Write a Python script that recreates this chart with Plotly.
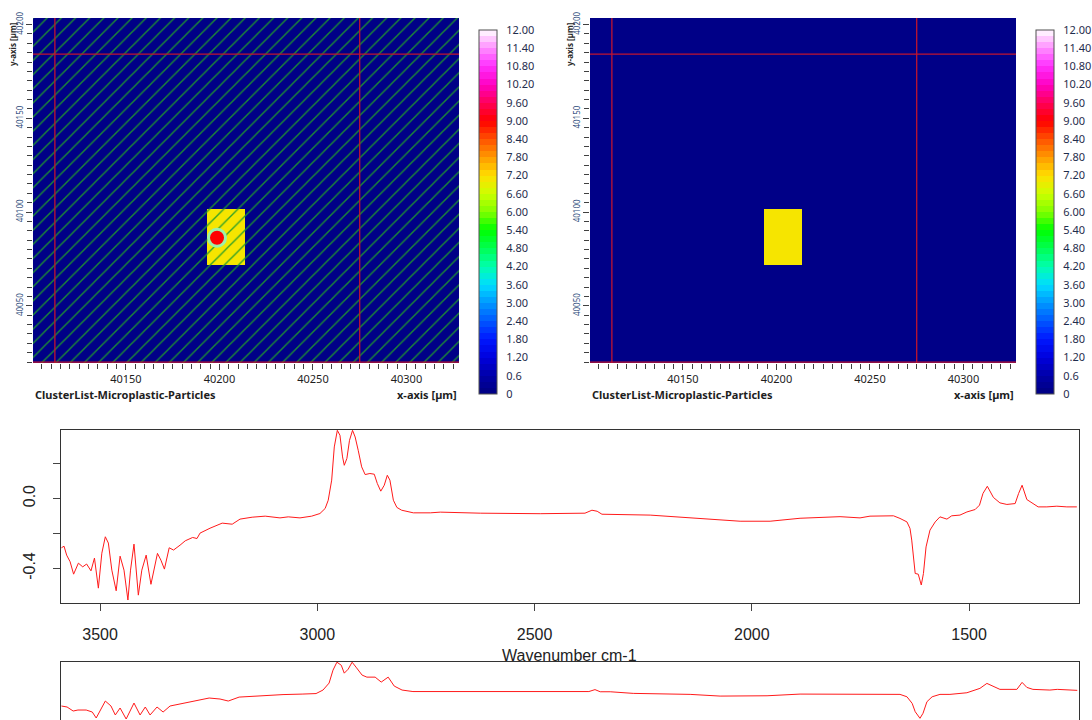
import plotly.graph_objects as go

W, H = 1092, 720

# ---------------- particle map (µm) ----------------
map_x_edges = [40100.3, 40193.3, 40213.6, 40328.1]
map_y_edges = [40019.5, 40071.9, 40101.9, 40203.5]
map_z = [[0, 0, 0],
         [0, 7.1, 0],
         [0, 0, 0]]
particle_x = [40198.7]
particle_y = [40086.3]
cross_x = [40112.0, 40275.0]
cross_y = [40020.0, 40184.2]
map_xticks = [40150, 40200, 40250, 40300]
map_yticks = [40050, 40100, 40150, 40200]

# colour scale of the map
cbar_values = [0, 0.6, 1.2, 1.8, 2.4, 3.0, 3.6, 4.2, 4.8, 5.4, 6.0,
               6.6, 7.2, 7.8, 8.4, 9.0, 9.6, 10.2, 10.8, 11.4, 12.0]
cbar_labels = ["0", "0.6", "1.20", "1.80", "2.40", "3.00", "3.60", "4.20", "4.80",
               "5.40", "6.00", "6.60", "7.20", "7.80", "8.40", "9.00", "9.60",
               "10.20", "10.80", "11.40", "12.00"]
cbar_colors = ["#000080", "#0000a8", "#0000dc", "#0018ff", "#0058ff", "#0098ff",
               "#00dcff", "#00ffb0", "#00ff50", "#00ff00", "#80ff00", "#ccff00",
               "#ffe000", "#ff9800", "#ff5000", "#ff0000", "#ff0058", "#ff00c0",
               "#ff30ff", "#ff90ff", "#ffffff"]

# ---------------- spectra ----------------
wn1 = [3589, 3583, 3577, 3569, 3561, 3550, 3540, 3531, 3521, 3513, 3504, 3496,
       3488, 3481, 3473, 3463, 3454, 3445, 3436, 3430, 3422, 3412, 3404, 3394,
       3383, 3376, 3368, 3360, 3352, 3341, 3331, 3316, 3304, 3287, 3277, 3270,
       3247, 3219, 3196, 3178, 3150, 3120, 3086, 3067, 3040, 3013, 2994, 2982,
       2975, 2967, 2961, 2954, 2948, 2942, 2938, 2932, 2926, 2919, 2913, 2906,
       2898, 2890, 2879, 2869, 2862, 2854, 2846, 2839, 2833, 2825, 2817, 2806,
       2779, 2740, 2717, 2625, 2487, 2384, 2368, 2356, 2345, 2234, 2119, 2027,
       1958, 1889, 1797, 1751, 1728, 1674, 1659, 1643, 1636, 1632, 1624, 1617,
       1610, 1605, 1599, 1590, 1578, 1567, 1551, 1540, 1521, 1505, 1486, 1476,
       1468, 1458, 1444, 1429, 1413, 1394, 1386, 1378, 1367, 1356, 1341, 1321,
       1298, 1275, 1252]
ab1 = [-0.282, -0.273, -0.324, -0.362, -0.433, -0.370, -0.391, -0.375, -0.414,
       -0.341, -0.513, -0.313, -0.219, -0.255, -0.410, -0.528, -0.330, -0.410,
       -0.581, -0.410, -0.261, -0.553, -0.410, -0.324, -0.491, -0.410, -0.314,
       -0.353, -0.404, -0.282, -0.295, -0.267, -0.242, -0.223, -0.229, -0.198,
       -0.170, -0.141, -0.147, -0.118, -0.107, -0.101, -0.111, -0.105, -0.111,
       -0.101, -0.086, -0.057, -0.010, 0.105, 0.295, 0.390, 0.362, 0.238, 0.190,
       0.229, 0.333, 0.390, 0.352, 0.276, 0.181, 0.137, 0.143, 0.139, 0.086,
       0.042, 0.076, 0.133, 0.105, -0.010, -0.051, -0.067, -0.082, -0.082,
       -0.078, -0.084, -0.087, -0.084, -0.067, -0.073, -0.090, -0.095, -0.113,
       -0.130, -0.130, -0.113, -0.104, -0.111, -0.101, -0.099, -0.114, -0.134,
       -0.171, -0.238, -0.429, -0.433, -0.495, -0.429, -0.277, -0.181, -0.134,
       -0.105, -0.118, -0.099, -0.095, -0.077, -0.063, -0.038, 0.029, 0.070,
       0.006, -0.025, -0.034, -0.029, 0.029, 0.076, -0.006, -0.023, -0.048,
       -0.048, -0.044, -0.048, -0.048]

wn2 = [3589, 3576, 3562, 3551, 3532, 3518, 3509, 3500, 3488, 3475, 3465, 3454,
       3440, 3422, 3408, 3396, 3385, 3369, 3355, 3339, 3316, 3291, 3272, 3249,
       3224, 3205, 3180, 3148, 3113, 3079, 3035, 3003, 2987, 2973, 2964, 2955,
       2945, 2938, 2929, 2920, 2911, 2897, 2886, 2867, 2853, 2844, 2837, 2823,
       2805, 2780, 2674, 2497, 2375, 2361, 2349, 2326, 2273, 2142, 2073, 1965,
       1889, 1659, 1643, 1631, 1624, 1613, 1606, 1597, 1585, 1567, 1544, 1505,
       1475, 1459, 1447, 1429, 1390, 1378, 1367, 1353, 1314, 1297, 1251]
ab2 = [-0.298, -0.314, -0.378, -0.362, -0.362, -0.394, -0.489, -0.362, -0.219,
       -0.298, -0.441, -0.330, -0.505, -0.251, -0.441, -0.314, -0.441, -0.314,
       -0.394, -0.298, -0.267, -0.235, -0.203, -0.171, -0.187, -0.219, -0.156,
       -0.140, -0.124, -0.116, -0.108, -0.100, -0.044, 0.067, 0.273, 0.400,
       0.352, 0.225, 0.289, 0.400, 0.321, 0.194, 0.162, 0.162, 0.083, 0.130,
       0.162, 0.019, -0.044, -0.068, -0.068, -0.068, -0.068, -0.037, -0.071,
       -0.071, -0.097, -0.113, -0.140, -0.135, -0.108, -0.113, -0.151, -0.256,
       -0.389, -0.494, -0.414, -0.230, -0.151, -0.113, -0.113, -0.087, -0.017,
       0.062, 0.019, -0.033, -0.033, 0.078, -0.002, -0.033, -0.044, -0.033,
       -0.049]
spec_xticks = [3500, 3000, 2500, 2000, 1500]
spec_yticks = [-0.4, -0.2, 0.0, 0.2]
spec_ylabels = ["-0.4", "", "0.0", ""]


def hex_rgb(h):
    h = h.lstrip("#")
    return tuple(int(h[i:i + 2], 16) for i in (0, 2, 4))


def band_colorscale(values, colors, zmax, nbands=60):
    """Stepped colour scale, one flat colour per band."""
    scale = []
    for i in range(nbands):
        v = (i + 0.5) * zmax / nbands
        for k in range(len(values) - 1):
            if values[k] <= v <= values[k + 1]:
                t = (v - values[k]) / (values[k + 1] - values[k])
                a, b = hex_rgb(colors[k]), hex_rgb(colors[k + 1])
                c = tuple(round(a[j] + (b[j] - a[j]) * t) for j in range(3))
                break
        col = "rgb(%d,%d,%d)" % c
        scale.append([i / nbands, col])
        scale.append([(i + 1) / nbands, col])
    return scale


cscale = band_colorscale(cbar_values, cbar_colors, 12.0)

fig = go.Figure()

# map panels: left (hatched, with particle marker) and right
panels = [
    dict(xa="x", ya="y", left=33, right=459, cbx=479),
    dict(xa="x2", ya="y2", left=590, right=1016, cbx=1036),
]
for p in panels:
    fig.add_trace(go.Heatmap(
        x=map_x_edges, y=map_y_edges, z=map_z, xaxis=p["xa"], yaxis=p["ya"],
        zmin=0, zmax=12, colorscale=cscale, hoverinfo="skip",
        colorbar=dict(
            x=p["cbx"] / W, xanchor="left", xpad=0, ypad=0,
            y=1 - 212 / H, yanchor="middle", len=364 / H, lenmode="fraction",
            thickness=18, outlinewidth=1, outlinecolor="#505050",
            tickvals=cbar_values, ticktext=cbar_labels,
            ticks="outside", ticklen=7, tickcolor="rgba(0,0,0,0)",
            tickfont=dict(family="Noto Sans", size=11, color="#1f2d4d"),
        ),
    ))

# diagonal hatching over the left map
x0, x1 = map_x_edges[0], map_x_edges[-1]
y0, y1 = map_y_edges[0], map_y_edges[-1]
fig.add_trace(go.Scatter(
    x=[x0, x1, x1, x0, x0], y=[y0, y0, y1, y1, y0], xaxis="x", yaxis="y",
    mode="lines", line=dict(width=0), fill="toself", fillcolor="rgba(0,0,0,0)",
    fillpattern=dict(shape="/", fgcolor="#1f9a2a", fgopacity=0.9, size=10, solidity=0.14),
    hoverinfo="skip", showlegend=False,
))
# particle marker
fig.add_trace(go.Scatter(
    x=particle_x, y=particle_y, xaxis="x", yaxis="y", mode="markers",
    marker=dict(size=17, color="#ff0000", line=dict(color="#9cf0a8", width=3)),
    hoverinfo="skip", showlegend=False,
))

# spectra
fig.add_trace(go.Scatter(x=wn1, y=ab1, xaxis="x3", yaxis="y3", mode="lines",
                         line=dict(color="#ff1a1a", width=1), showlegend=False))
fig.add_trace(go.Scatter(x=wn2, y=ab2, xaxis="x4", yaxis="y4", mode="lines",
                         line=dict(color="#ff1a1a", width=1), showlegend=False))

shapes = []
annotations = []
map_font = dict(family="Noto Sans", size=11, color="#1e1e1e")
for i, p in enumerate(panels):
    suffix = "" if i == 0 else "2"
    xref, yref = "x" + suffix, "y" + suffix
    for cx in cross_x:
        shapes.append(dict(type="line", xref=xref, yref=yref, x0=cx, x1=cx, y0=y0, y1=y1,
                           line=dict(color="#c0142f", width=1.3), layer="above"))
    for cy in cross_y:
        shapes.append(dict(type="line", xref=xref, yref=yref, x0=x0, x1=x1, y0=cy, y1=cy,
                           line=dict(color="#c0142f", width=1.3), layer="above"))
    annotations.append(dict(
        text="<b>ClusterList-Microplastic-Particles</b>", xref="paper", yref="paper",
        x=p["left"] / W, y=1 - 394 / H, xanchor="left", yanchor="middle",
        showarrow=False, font=map_font))
    annotations.append(dict(
        text="<b>x-axis [µm]</b>", xref="paper", yref="paper",
        x=p["right"] / W, y=1 - 394 / H, xanchor="right", yanchor="middle",
        showarrow=False, font=map_font))
    annotations.append(dict(
        text="<b>y-axis [µm]</b>", xref="paper", yref="paper",
        x=(p["left"] - 21) / W, y=1 - 44 / H, xanchor="center", yanchor="middle",
        textangle=-90, showarrow=False,
        font=dict(family="Noto Sans", size=8, color="#2a2a2a")))

annotations.append(dict(
    text="Wavenumber cm-1", xref="paper", yref="paper", x=569 / W, y=1 - 655 / H,
    xanchor="center", yanchor="middle", showarrow=False,
    font=dict(family="Liberation Sans", size=16, color="#222222")))


def map_xaxis(left, right):
    return dict(domain=[left / W, right / W], range=[x0, x1], showgrid=False,
                zeroline=False, showline=False, tickvals=map_xticks, tickformat="d",
                ticks="outside", ticklen=6, tickcolor="#404040", tickfont=map_font,
                minor=dict(dtick=5, tick0=40000, ticks="outside", ticklen=5, tickcolor="#404040"))


def map_yaxis(anchor):
    return dict(domain=[1 - 363 / H, 1 - 18 / H], range=[y0, y1], showgrid=False,
                zeroline=False, showline=False, tickvals=map_yticks, tickformat="d",
                ticks="outside", ticklen=6, tickcolor="#404040", tickangle=-90,
                tickfont=dict(family="Noto Sans", size=8, color="#2b4a7a"),
                minor=dict(dtick=5, tick0=40000, ticks="outside", ticklen=5, tickcolor="#404040"),
                anchor=anchor)


spec_font = dict(family="Liberation Sans", size=16, color="#222222")
fig.update_layout(
    width=W, height=H, margin=dict(l=0, r=0, t=0, b=0, autoexpand=False),
    paper_bgcolor="white", plot_bgcolor="white", showlegend=False,
    xaxis=dict(map_xaxis(33, 459), anchor="y"),
    yaxis=map_yaxis("x"),
    xaxis2=dict(map_xaxis(590, 1016), anchor="y2"),
    yaxis2=map_yaxis("x2"),
    xaxis3=dict(domain=[61 / W, 1079 / W], range=[3590, 1247], anchor="y3",
                tickvals=spec_xticks, ticks="outside", ticklen=7, tickcolor="#444444",
                showline=True, linecolor="#333333", mirror=True, showgrid=False,
                zeroline=False, tickfont=spec_font, ticklabelstandoff=10),
    yaxis3=dict(domain=[1 - 603 / H, 1 - 430 / H], range=[-0.598, 0.392], anchor="x3",
                tickvals=spec_yticks, ticktext=spec_ylabels, ticks="outside", ticklen=7,
                tickcolor="#444444", showline=True, linecolor="#333333", mirror=True,
                showgrid=False, zeroline=False, tickangle=-90, tickfont=spec_font,
                ticklabelstandoff=12),
    xaxis4=dict(domain=[61 / W, 1079 / W], range=[3590, 1247], anchor="y4", side="top",
                showline=True, linecolor="#333333", ticks="", showticklabels=False,
                showgrid=False, zeroline=False),
    yaxis4=dict(domain=[0, 1 - 662 / H], range=[-0.521, 0.403], anchor="x4",
                showline=True, linecolor="#333333", mirror=True, ticks="",
                showticklabels=False, showgrid=False, zeroline=False),
    shapes=shapes, annotations=annotations,
)

fig.write_html("out.html")
